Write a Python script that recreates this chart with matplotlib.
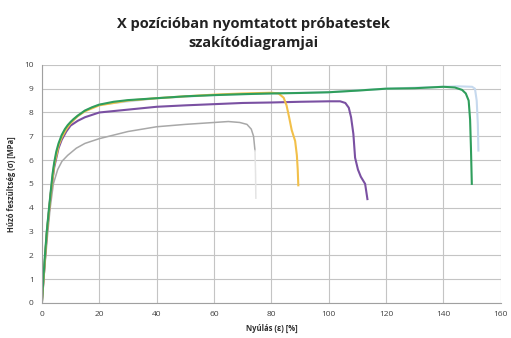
import matplotlib
matplotlib.use("Agg")
import matplotlib.pyplot as plt

plt.rcParams["font.family"] = ["Open Sans", "DejaVu Sans"]

# Tensile curves: strain [%] vs stress [MPa]
green_x = [0, 0.5, 1, 1.7, 2.5, 3.1, 3.7, 4.3, 5.0, 5.8, 6.9, 8.0, 9.0, 10, 11, 12.5,
           15, 17.5, 20, 25, 30, 40, 50, 60, 70, 80, 90, 100, 110, 120, 130, 140, 144,
           146.5, 147.8, 148.8, 149.3, 149.6, 149.9]
green_y = [0, 1.0, 1.9, 3.0, 4.0, 4.7, 5.4, 5.9, 6.35, 6.7, 7.05, 7.3, 7.47, 7.6, 7.72,
           7.87, 8.08, 8.22, 8.33, 8.45, 8.52, 8.6, 8.68, 8.73, 8.77, 8.8, 8.82, 8.85,
           8.92, 9.0, 9.02, 9.08, 9.05, 8.95, 8.8, 8.5, 7.7, 6.5, 5.0]

blue_x = [0, 1.7, 3.1, 4.3, 6.9, 10, 15, 20, 40, 60, 80, 100, 120, 140, 145, 150, 151,
          151.6, 152, 152.2]
blue_y = [0, 3.0, 4.7, 5.9, 7.05, 7.6, 8.08, 8.33, 8.6, 8.73, 8.8, 8.85, 9.0, 9.08, 9.1,
          9.08, 9.0, 8.5, 7.5, 6.4]

yellow_x = [0, 1.7, 3.1, 4.3, 5.8, 6.9, 8.5, 10, 12.5, 15, 20, 30, 40, 50, 60, 70, 80,
            82.5, 84.3, 85.3, 86.2, 87.1, 88.3, 88.9, 89.2, 89.4]
yellow_y = [0, 2.9, 4.6, 5.8, 6.6, 6.95, 7.3, 7.55, 7.85, 8.05, 8.3, 8.5, 8.6, 8.68,
            8.75, 8.8, 8.83, 8.8, 8.62, 8.3, 7.8, 7.26, 6.8, 6.2, 5.6, 4.94]

purple_x = [0, 1.7, 3.1, 4.3, 5.8, 6.9, 8.5, 10, 12.5, 15, 20, 30, 40, 50, 60, 70, 80,
            90, 100, 104, 105.8, 107, 107.8, 108.6, 109.2, 110.2, 111.2, 112.7, 113.5]
purple_y = [0, 2.9, 4.6, 5.7, 6.5, 6.85, 7.2, 7.45, 7.65, 7.8, 8.0, 8.12, 8.24, 8.3,
            8.35, 8.4, 8.42, 8.45, 8.47, 8.47, 8.4, 8.2, 7.8, 7.1, 6.1, 5.6, 5.3, 5.0,
            4.36]

gray_x = [0, 1, 2, 2.9, 4, 5.5, 7, 9, 12, 15, 20, 25, 30, 40, 50, 60, 65, 69, 71.5,
          73.0, 73.8, 74.3]
gray_y = [0, 1.5, 2.9, 4.0, 5.0, 5.6, 5.95, 6.2, 6.5, 6.7, 6.9, 7.05, 7.2, 7.4, 7.5,
          7.58, 7.62, 7.58, 7.5, 7.3, 7.0, 6.4]
gray_tail_x = [74.3, 74.5, 74.6]
gray_tail_y = [6.4, 5.4, 4.4]

x_ticks = [0, 20, 40, 60, 80, 100, 120, 140, 160]
y_ticks = list(range(0, 11))

fig = plt.figure(figsize=(5.11, 3.38), dpi=100)
ax = fig.add_axes([0.082, 0.104, 0.898, 0.704])

lw = 1.5
ax.plot(blue_x, blue_y, color="#c6d9ee", lw=lw)
ax.plot(gray_x, gray_y, color="#a8a8a8", lw=1.1)
ax.plot(gray_tail_x, gray_tail_y, color="#e4e4e4", lw=1.1)
ax.plot(purple_x, purple_y, color="#7a50a2", lw=lw)
ax.plot(yellow_x, yellow_y, color="#f2c04a", lw=lw)
ax.plot(green_x, green_y, color="#2f9e5c", lw=lw)

ax.set_xlim(0, 160)
ax.set_ylim(0, 10)
ax.set_xticks(x_ticks)
ax.set_yticks(y_ticks)
ax.grid(True, color="#c4c4c4", lw=0.8)
ax.set_axisbelow(True)
for side in ["top", "right"]:
    ax.spines[side].set_visible(False)
for side in ["left", "bottom"]:
    ax.spines[side].set_color("#a0a0a0")
    ax.spines[side].set_linewidth(0.8)
ax.tick_params(length=0, labelsize=6, colors="#404040", pad=6)

ax.set_xlabel("Nyúlás (ε) [%]", fontsize=5.5, fontweight="bold", color="#303030", labelpad=4)
ax.set_ylabel("Húzó feszültség (σ) [MPa]", fontsize=5.5, fontweight="bold",
              color="#303030", labelpad=6)

fig.text(0.495, 0.901, "X pozícióban nyomtatott próbatestek\nszakítódiagramjai",
         ha="center", va="center", fontsize=10.5, fontweight="bold", color="#222222",
         linespacing=1.5)

fig.savefig("out.png", dpi=100)
